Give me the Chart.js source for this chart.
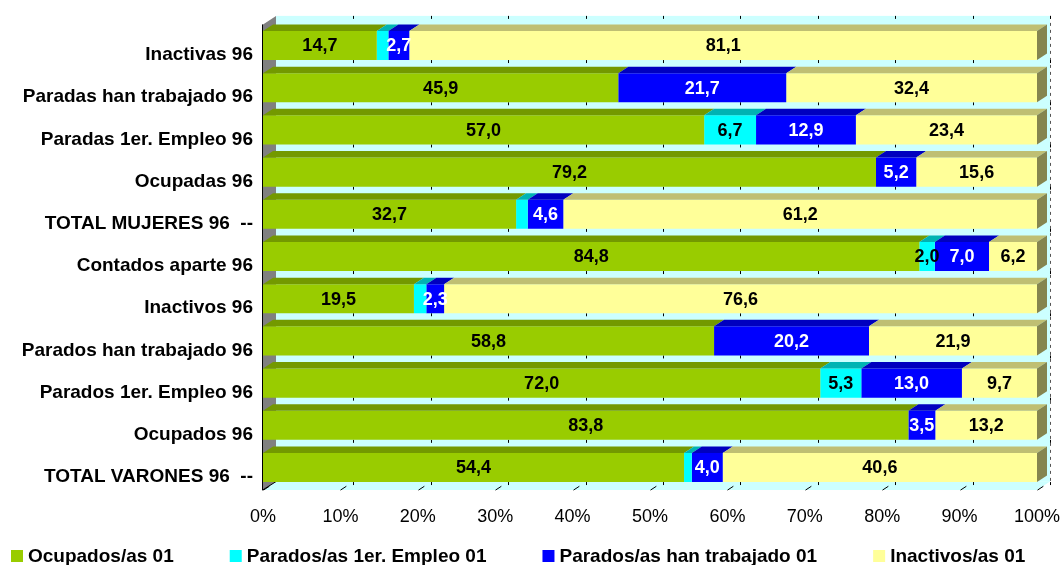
<!DOCTYPE html>
<html>
<head>
<meta charset="utf-8">
<script src="https://cdn.jsdelivr.net/npm/chart.js@4.4.0/dist/chart.umd.min.js"></script>
<style>
body{margin:0;background:#fff;}
</style>
</head>
<body>
<canvas id="myChart" width="1063" height="565"></canvas>
<script>
// datos
var categories = ["Inactivas 96", "Paradas han trabajado 96", "Paradas 1er. Empleo 96", "Ocupadas 96",
    "TOTAL MUJERES 96  --", "Contados aparte 96", "Inactivos 96", "Parados han trabajado 96",
    "Parados 1er. Empleo 96", "Ocupados 96", "TOTAL VARONES 96  --"];
var seriesNames = ["Ocupados/as 01", "Parados/as 1er. Empleo 01", "Parados/as han trabajado 01", "Inactivos/as 01"];
var ocupados    = [14.7, 45.9, 57.0, 79.2, 32.7, 84.8, 19.5, 58.8, 72.0, 83.8, 54.4];
var parados1er  = [1.5, 0, 6.7, 0, 1.5, 2.0, 1.6, 0, 5.3, 0, 1.0];
var paradosTrab = [2.7, 21.7, 12.9, 5.2, 4.6, 7.0, 2.3, 20.2, 13.0, 3.5, 4.0];
var inactivos   = [81.1, 32.4, 23.4, 15.6, 61.2, 6.2, 76.6, 21.9, 9.7, 13.2, 40.6];

var colors    = ["#99CC00", "#00FFFF", "#0000FF", "#FFFF99"];
var topColors = ["#739900", "#00B3B3", "#0000BF", "#BFBF73"];
var endColor  = "#85854F";
var labelColors = ["#000", "#000", "#fff", "#000"];
var FONT = '"Liberation Sans", Arial, sans-serif';

var raw = [ocupados, parados1er, paradosTrab, inactivos];
// 100% apilado: cada fila se normaliza a su total
var totals = categories.map(function(c, i){
    return raw.reduce(function(s, arr){ return s + arr[i]; }, 0);
});
function pct(arr){
    return arr.map(function(v, i){ return v / totals[i] * 100; });
}

var wall = {dx: 13, dy: -8.5};
var depth = {dx: 10, dy: -6.5};

function poly(ctx, pts, fill){
    ctx.beginPath();
    ctx.moveTo(pts[0][0], pts[0][1]);
    for(var i = 1; i < pts.length; i++) ctx.lineTo(pts[i][0], pts[i][1]);
    ctx.closePath();
    ctx.fillStyle = fill;
    ctx.fill();
}

var threeD = {
    id: 'threeD',
    beforeDatasetsDraw: function(chart){
        var ctx = chart.ctx, a = chart.chartArea, xs = chart.scales.x;
        var L = a.left, R = a.right, T = a.top, B = a.bottom + 1.5;
        ctx.save();
        // pared del fondo y suelo
        ctx.fillStyle = "#CCFFFF";
        ctx.fillRect(L + wall.dx, T + wall.dy, R - L, B - T);
        poly(ctx, [[L, B], [R, B], [R + wall.dx, B + wall.dy], [L + wall.dx, B + wall.dy]], "#CCFFFF");
        // pared izquierda
        poly(ctx, [[L, T], [L + wall.dx, T + wall.dy], [L + wall.dx, B + wall.dy], [L, B]], "#808080");
        ctx.strokeStyle = "#000";
        ctx.lineWidth = 1;
        ctx.beginPath();
        ctx.moveTo(L - 0.5, T);
        ctx.lineTo(L - 0.5, B);
        ctx.lineTo(L + wall.dx, B + wall.dy);
        ctx.stroke();
        // borde derecho de la pared
        ctx.setLineDash([3, 4]);
        ctx.strokeStyle = "#555";
        ctx.beginPath();
        ctx.moveTo(R + wall.dx + 0.5, T + wall.dy);
        ctx.lineTo(R + wall.dx + 0.5, B + wall.dy);
        ctx.stroke();
        ctx.setLineDash([]);
        // marcas de la cuadricula
        var meta = chart.getDatasetMeta(0);
        ctx.strokeStyle = "#000";
        xs.ticks.forEach(function(t){
            var px = Math.round(xs.getPixelForValue(t.value)) + 0.5;
            ctx.beginPath();
            ctx.moveTo(px, B);
            ctx.lineTo(px + wall.dx * 0.45, B + wall.dy * 0.45);
            ctx.stroke();
            if(t.value === 0) return;
            var bx = px + wall.dx;
            ctx.beginPath();
            ctx.moveTo(bx, T + wall.dy);
            ctx.lineTo(bx, T + wall.dy + 3);
            meta.data.forEach(function(el){
                var bot = el.y + el.height / 2;
                ctx.moveTo(bx, bot);
                ctx.lineTo(bx, bot + 3);
            });
            ctx.stroke();
        });
        ctx.restore();
    },
    afterDatasetsDraw: function(chart){
        var ctx = chart.ctx;
        ctx.save();
        var last = chart.data.datasets.length - 1;
        chart.data.datasets.forEach(function(ds, d){
            var meta = chart.getDatasetMeta(d);
            meta.data.forEach(function(el){
                var x0 = el.base, x1 = el.x;
                if(x1 - x0 < 0.5) return;
                var top = el.y - el.height / 2, bot = el.y + el.height / 2;
                poly(ctx, [[x0, top], [x1, top], [x1 + depth.dx, top + depth.dy], [x0 + depth.dx, top + depth.dy]], topColors[d]);
                if(d === last){
                    poly(ctx, [[x1, top], [x1 + depth.dx, top + depth.dy], [x1 + depth.dx, bot + depth.dy], [x1, bot]], endColor);
                }
            });
        });
        // etiquetas de datos
        ctx.font = 'bold 18px ' + FONT;
        ctx.textAlign = 'center';
        ctx.textBaseline = 'middle';
        chart.data.datasets.forEach(function(ds, d){
            var meta = chart.getDatasetMeta(d);
            meta.data.forEach(function(el, i){
                var v = raw[d][i];
                if(v < 1.8) return;
                ctx.fillStyle = labelColors[d];
                ctx.fillText(v.toFixed(1).replace('.', ','), (el.base + el.x) / 2, el.y + 1);
            });
        });
        ctx.restore();
    },
    afterDraw: function(chart){
        // leyenda
        var ctx = chart.ctx;
        ctx.save();
        ctx.font = 'bold 19px ' + FONT;
        ctx.textBaseline = 'middle';
        ctx.textAlign = 'left';
        var x = 11;
        chart.data.datasets.forEach(function(ds, d){
            ctx.fillStyle = ds.backgroundColor;
            ctx.fillRect(x, 550, 12, 12);
            ctx.fillStyle = "#000";
            ctx.fillText(ds.label, x + 17, 557);
            x += 17 + ctx.measureText(ds.label).width + 56;
        });
        ctx.restore();
    }
};

var canvas = document.getElementById("myChart");
var myChart = new Chart(canvas, {
    type: 'bar',
    data: {
        labels: categories,
        datasets: raw.map(function(arr, d){
            return {
                label: seriesNames[d],
                data: pct(arr),
                backgroundColor: colors[d],
                borderWidth: 0,
                barPercentage: 0.69,
                categoryPercentage: 1
            };
        })
    },
    options: {
        indexAxis: 'y',
        responsive: false,
        animation: false,
        devicePixelRatio: 1,
        layout: {padding: {top: 24.4, right: 26, bottom: 36.4, left: 0}},
        scales: {
            x: {
                stacked: true,
                min: 0,
                max: 100,
                grid: {display: false, drawTicks: false},
                border: {display: false},
                ticks: {
                    stepSize: 10,
                    padding: 18,
                    color: "#000",
                    maxRotation: 0,
                    autoSkip: false,
                    font: {family: FONT, size: 18},
                    callback: function(v){ return v + '%'; }
                },
                afterFit: function(scale){
                    scale.height = 40;
                    scale.paddingLeft = 0;
                    scale.paddingRight = 0;
                }
            },
            y: {
                stacked: true,
                grid: {display: false, drawTicks: false},
                border: {display: false},
                ticks: {
                    padding: 10,
                    labelOffset: 9.5,
                    autoSkip: false,
                    color: "#000",
                    font: {family: FONT, size: 19, weight: 'bold'}
                },
                afterFit: function(scale){
                    scale.width = 263;
                    scale.paddingTop = 0;
                    scale.paddingBottom = 0;
                }
            }
        },
        plugins: {
            legend: {display: false},
            tooltip: {enabled: false}
        }
    },
    plugins: [threeD]
});
</script>
</body>
</html>
